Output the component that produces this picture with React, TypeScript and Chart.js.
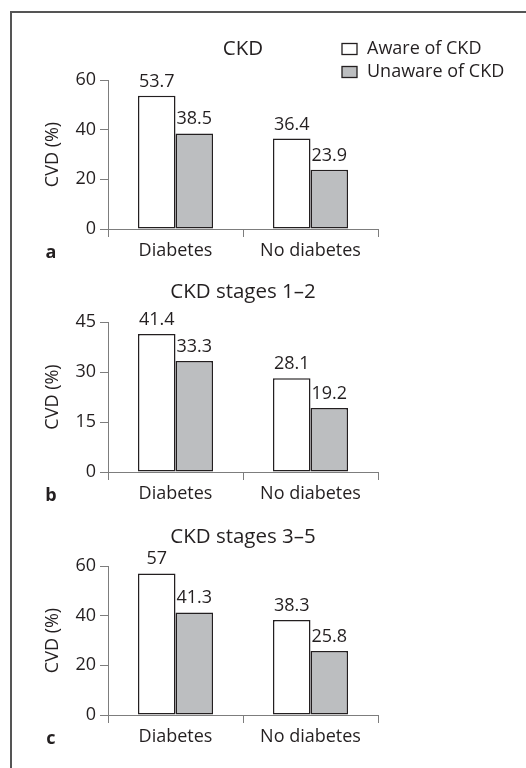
import React, { useEffect, useRef } from 'react';
import { Chart, registerables } from 'chart.js';

Chart.register(...registerables);

// ---- data ----
const categories = ['Diabetes', 'No diabetes'];
const seriesNames = ['Aware of CKD', 'Unaware of CKD'];
const panelTitles = ['CKD', 'CKD stages 1–2', 'CKD stages 3–5'];
const panelLetters = ['a', 'b', 'c'];
const yAxisTitle = 'CVD (%)';
const awareA = [53.7, 36.4];
const unawareA = [38.5, 23.9];
const awareB = [41.4, 28.1];
const unawareB = [33.3, 19.2];
const awareC = [57, 38.3];
const unawareC = [41.3, 25.8];
const yMaxes = [60, 45, 60];
const yStepSizes = [20, 15, 20];

const FONT = "'Open Sans', 'Noto Sans', sans-serif";
const TEXT = '#231f20';
const AXIS = '#7d7d7d';
const GRAY = '#bcbec0';
const WHITE = '#ffffff';

const overlayPlugin = {
  id: 'overlay',
  afterDatasetsDraw(chart: any, _args: any, opts: any) {
    const ctx = chart.ctx;
    const area = chart.chartArea;
    ctx.save();
    ctx.fillStyle = TEXT;
    // value labels
    ctx.font = `18px ${FONT}`;
    ctx.textAlign = 'center';
    ctx.textBaseline = 'alphabetic';
    chart.data.datasets.forEach((ds: any, di: number) => {
      const meta = chart.getDatasetMeta(di);
      meta.data.forEach((bar: any, i: number) => {
        ctx.fillText(String(ds.data[i]), bar.x, bar.y - 9);
      });
    });
    // panel title
    ctx.font = `20.5px ${FONT}`;
    ctx.textBaseline = 'middle';
    ctx.fillText(opts.title, (area.left + area.right) / 2, opts.titleY);
    // panel letter
    ctx.font = `bold 18px ${FONT}`;
    ctx.textBaseline = 'alphabetic';
    ctx.fillText(opts.letter, 51, area.bottom + 29);
    // legend
    if (opts.legend) {
      ctx.font = `18px ${FONT}`;
      ctx.textAlign = 'left';
      ctx.textBaseline = 'middle';
      chart.data.datasets.forEach((ds: any, di: number) => {
        const cy = opts.legendY + di * 23;
        ctx.fillStyle = ds.backgroundColor;
        ctx.strokeStyle = TEXT;
        ctx.lineWidth = 1.3;
        ctx.fillRect(342, cy - 5.5, 15, 11);
        ctx.strokeRect(342, cy - 5.5, 15, 11);
        ctx.fillStyle = TEXT;
        ctx.fillText(ds.label, 367, cy - 0.5);
      });
    }
    ctx.restore();
  },
};

type PanelProps = {
  index: number;
  aware: number[];
  unaware: number[];
  top: number;
  height: number;
  padTop: number;
  padBottom: number;
  titleY: number;
  legend: boolean;
};

function Panel(props: PanelProps) {
  const ref = useRef<HTMLCanvasElement>(null);
  useEffect(() => {
    if (!ref.current) return;
    const chart = new Chart(ref.current, {
      type: 'bar',
      data: {
        labels: categories,
        datasets: [
          {
            label: seriesNames[0],
            data: props.aware,
            backgroundColor: WHITE,
            borderColor: TEXT,
            borderWidth: 1.5,
            borderSkipped: false,
            categoryPercentage: 0.556,
            barPercentage: 1,
          },
          {
            label: seriesNames[1],
            data: props.unaware,
            backgroundColor: GRAY,
            borderColor: TEXT,
            borderWidth: 1.5,
            borderSkipped: false,
            categoryPercentage: 0.556,
            barPercentage: 1,
          },
        ],
      },
      options: {
        responsive: false,
        animation: false,
        devicePixelRatio: 1,
        layout: {
          autoPadding: false,
          padding: { top: props.padTop, bottom: props.padBottom, left: 0, right: 148 },
        },
        plugins: {
          legend: { display: false },
          title: { display: false },
          tooltip: { enabled: false },
          overlay: {
            title: panelTitles[props.index],
            letter: panelLetters[props.index],
            titleY: props.titleY,
            legend: props.legend,
            legendY: 49,
          },
        } as any,
        scales: {
          x: {
            grid: { offset: true, drawOnChartArea: false, tickLength: 8, color: AXIS, lineWidth: 1 },
            border: { color: AXIS, width: 1 },
            ticks: { padding: 3, color: TEXT, font: { size: 18, family: FONT } },
            afterFit: (s: any) => {
              s.height = 30;
            },
          },
          y: {
            min: 0,
            max: yMaxes[props.index],
            ticks: {
              stepSize: yStepSizes[props.index],
              padding: 4,
              color: TEXT,
              font: { size: 18, family: FONT },
            },
            grid: { drawOnChartArea: false, tickLength: 8, color: AXIS, lineWidth: 1 },
            border: { color: AXIS, width: 1 },
            title: {
              display: true,
              text: yAxisTitle,
              color: TEXT,
              font: { size: 18, family: FONT },
              padding: { top: 42, bottom: 0 },
            },
            afterFit: (s: any) => {
              s.width = 108;
            },
          },
        },
      },
      plugins: [overlayPlugin as any],
    });
    return () => chart.destroy();
  }, []);
  return (
    <canvas
      ref={ref}
      width={526}
      height={props.height}
      style={{ position: 'absolute', left: 0, top: props.top, width: 526, height: props.height }}
    />
  );
}

export default function App() {
  return (
    <div
      style={{
        position: 'absolute',
        left: 0,
        top: 0,
        width: 526,
        height: 768,
        overflow: 'hidden',
        background: '#ffffff',
      }}
    >
      <div
        style={{
          position: 'absolute',
          left: 10,
          top: 11,
          width: 700,
          height: 900,
          borderLeft: '2px solid #555555',
          borderTop: '2px solid #555555',
        }}
      />
      <Panel index={0} aware={awareA} unaware={unawareA} top={0} height={262} padTop={80} padBottom={3} titleY={49.5} legend={true} />
      <Panel index={1} aware={awareB} unaware={unawareB} top={262} height={243} padTop={60} padBottom={3} titleY={30.5} legend={false} />
      <Panel index={2} aware={awareC} unaware={unawareC} top={505} height={263} padTop={61} padBottom={23} titleY={32} legend={false} />
    </div>
  );
}
